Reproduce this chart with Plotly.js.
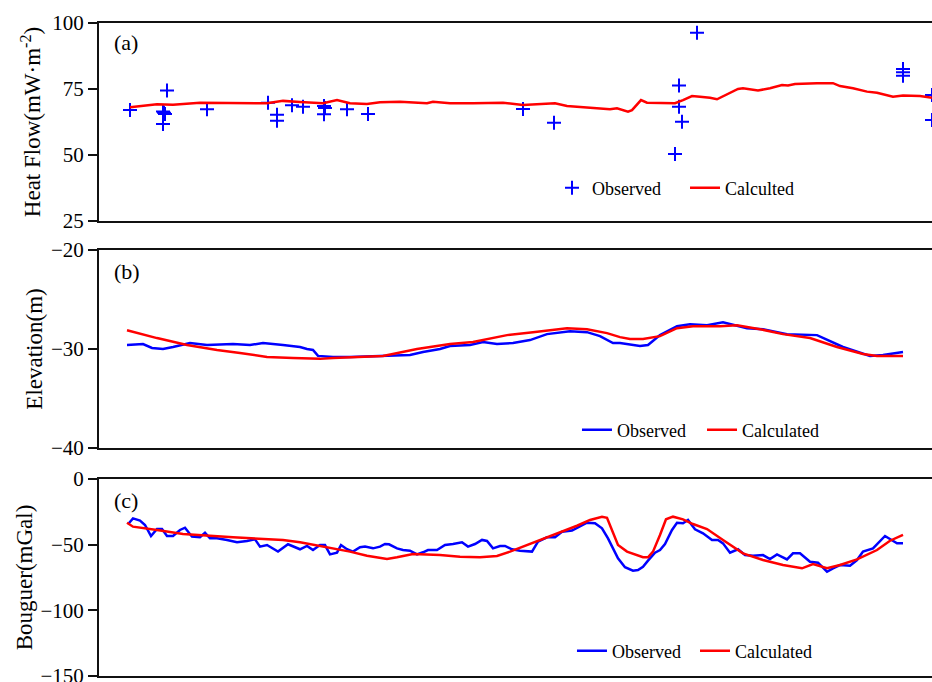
<!DOCTYPE html>
<html>
<head>
<meta charset="utf-8">
<script src="https://cdn.plot.ly/plotly-3.0.1.min.js"></script>
<style>
  html, body { margin: 0; padding: 0; background: #fff; overflow: hidden; }
  #chart { width: 932px; height: 682px; }
</style>
</head>
<body>
<div id="chart"></div>
<script>
// Profile distance along the section (km) and the three measured / modelled quantities.

// (a) Heat flow, mW·m^-2
const hfObsX = [3, 36, 37, 38, 36, 40, 80, 141, 150, 150, 165, 176, 197, 198, 197, 220, 241, 396, 427, 548, 552, 552, 555, 570, 776, 776, 776, 805, 805];
const hfObsY = [67.0, 66.5, 66.0, 65.5, 61.7, 74.4, 67.3, 69.8, 65.2, 63.0, 68.8, 68.3, 68.6, 67.8, 65.4, 67.3, 65.5, 67.4, 62.2, 50.4, 76.3, 68.3, 62.6, 96.3, 82.6, 81.3, 80.0, 72.7, 63.3];

const hfCalX = [3, 30, 46, 73, 140, 156, 173, 196, 210, 223, 240, 253, 273, 300, 306, 323, 346, 376, 396, 428, 440, 456, 473, 483, 490, 501, 505, 514, 520, 533, 548, 556, 565, 573, 583, 590, 600, 611, 616, 631, 643, 655, 661, 668, 690, 706, 713, 726, 740, 750, 766, 776, 793, 805];
const hfCalY = [68.1, 69.2, 69.0, 69.8, 69.6, 70.5, 70.1, 69.6, 70.8, 69.6, 69.3, 70.0, 70.2, 69.6, 70.2, 69.6, 69.6, 69.8, 68.9, 69.6, 68.6, 68.1, 67.7, 67.3, 67.7, 66.4, 67.0, 70.8, 69.8, 69.6, 69.6, 70.8, 72.3, 72.1, 71.7, 71.1, 73.0, 75.0, 75.3, 74.4, 75.3, 76.5, 76.3, 76.9, 77.2, 77.2, 76.1, 75.3, 74.0, 73.6, 72.1, 72.5, 72.3, 71.7];

// (b) Elevation, m
const elObsX = [0, 16, 25, 36, 46, 63, 80, 106, 123, 136, 156, 173, 180, 186, 191, 206, 223, 256, 283, 296, 313, 323, 343, 356, 370, 386, 403, 420, 443, 460, 473, 486, 493, 513, 521, 533, 550, 563, 580, 596, 605, 620, 636, 660, 690, 716, 743, 756, 776];
const elObsY = [-29.6, -29.5, -29.9, -30.0, -29.8, -29.4, -29.6, -29.5, -29.6, -29.4, -29.6, -29.8, -30.0, -30.1, -30.7, -30.8, -30.8, -30.7, -30.6, -30.3, -30.0, -29.7, -29.6, -29.3, -29.5, -29.4, -29.1, -28.5, -28.2, -28.3, -28.7, -29.4, -29.4, -29.7, -29.6, -28.6, -27.7, -27.5, -27.6, -27.3, -27.5, -27.9, -28.0, -28.5, -28.6, -29.8, -30.7, -30.6, -30.3];

const elCalX = [0, 30, 60, 90, 113, 140, 166, 193, 206, 256, 290, 323, 346, 380, 406, 440, 460, 480, 493, 503, 516, 533, 550, 566, 593, 610, 633, 656, 683, 710, 736, 750, 776];
const elCalY = [-28.1, -28.9, -29.6, -30.1, -30.4, -30.8, -30.9, -31.0, -30.9, -30.7, -30.0, -29.5, -29.3, -28.6, -28.3, -27.9, -28.0, -28.4, -28.8, -29.0, -29.0, -28.7, -27.9, -27.7, -27.7, -27.6, -28.0, -28.5, -28.9, -29.8, -30.5, -30.7, -30.7];

// (c) Bouguer gravity anomaly, mGal
const bgObsX = [1, 6, 13, 18, 24, 30, 35, 40, 46, 53, 58, 65, 73, 78, 83, 90, 100, 110, 120, 128, 133, 140, 151, 161, 173, 180, 186, 193, 198, 203, 210, 214, 220, 226, 233, 238, 246, 253, 258, 262, 270, 276, 283, 290, 296, 301, 310, 318, 326, 335, 341, 348, 355, 360, 366, 373, 378, 385, 393, 405, 411, 420, 428, 435, 445, 453, 460, 468, 475, 481, 486, 491, 498, 506, 511, 516, 521, 528, 533, 538, 545, 550, 556, 561, 568, 576, 585, 591, 596, 603, 611, 618, 626, 636, 643, 650, 660, 666, 673, 683, 691, 700, 706, 713, 723, 730, 736, 746, 758, 765, 770, 776];
const bgObsY = [-34.5, -30.0, -31.7, -35.0, -43.4, -38.1, -38.1, -43.4, -43.4, -38.8, -37.1, -43.9, -44.4, -41.0, -45.2, -45.2, -46.4, -48.2, -47.2, -45.9, -51.5, -50.3, -55.3, -49.7, -53.5, -51.0, -54.1, -50.3, -50.3, -57.4, -56.1, -50.3, -53.5, -55.3, -52.0, -51.5, -52.8, -51.5, -49.5, -49.7, -52.8, -54.1, -54.6, -57.4, -55.8, -54.1, -54.1, -50.3, -49.5, -48.2, -51.5, -49.5, -46.4, -47.2, -52.8, -51.0, -51.0, -53.5, -54.6, -55.3, -47.7, -44.4, -44.4, -40.1, -39.3, -35.8, -33.3, -33.7, -37.5, -45.2, -52.8, -60.4, -67.2, -69.8, -69.3, -66.8, -62.2, -56.1, -54.1, -49.5, -38.8, -33.3, -33.7, -31.2, -38.3, -41.4, -46.4, -46.4, -49.0, -56.1, -53.5, -57.9, -58.4, -57.9, -60.9, -57.4, -61.2, -56.6, -56.6, -63.0, -63.7, -70.6, -68.0, -65.5, -66.0, -61.7, -55.3, -52.8, -43.4, -46.4, -49.0, -49.0];

const bgCalX = [0, 6, 30, 56, 106, 156, 173, 193, 206, 223, 240, 260, 270, 286, 313, 333, 353, 370, 383, 400, 413, 433, 450, 463, 475, 480, 486, 491, 500, 516, 521, 526, 533, 539, 546, 556, 566, 580, 596, 616, 636, 656, 675, 686, 700, 713, 730, 750, 763, 776];
const bgCalY = [-33.3, -36.3, -38.8, -41.9, -44.4, -46.4, -48.2, -51.0, -52.8, -55.3, -58.4, -60.9, -59.6, -57.1, -57.9, -59.2, -59.6, -58.6, -55.3, -50.3, -46.4, -40.9, -35.6, -31.2, -28.7, -29.5, -40.1, -50.3, -55.3, -59.6, -59.6, -55.3, -42.6, -30.7, -28.7, -30.7, -34.3, -38.1, -46.4, -56.6, -61.7, -65.5, -68.0, -64.7, -68.0, -65.5, -61.2, -54.1, -47.0, -42.6];

const BLUE = '#0000ff';
const RED = '#ff0000';
const SERIF = 'Liberation Serif, Times New Roman, serif';

const traces = [
  { x: hfObsX, y: hfObsY, xaxis: 'x', yaxis: 'y', mode: 'markers', name: 'Observed', legend: 'legend',
    marker: { symbol: 'cross-thin', size: 10, color: BLUE, line: { color: BLUE, width: 2 } } },
  { x: hfCalX, y: hfCalY, xaxis: 'x', yaxis: 'y', mode: 'lines', name: 'Calculted', legend: 'legend2',
    line: { color: RED, width: 2.5 } },
  { x: elObsX, y: elObsY, xaxis: 'x2', yaxis: 'y2', mode: 'lines', name: 'Observed', legend: 'legend3',
    line: { color: BLUE, width: 2.5 } },
  { x: elCalX, y: elCalY, xaxis: 'x2', yaxis: 'y2', mode: 'lines', name: 'Calculated', legend: 'legend4',
    line: { color: RED, width: 2.5 } },
  { x: bgObsX, y: bgObsY, xaxis: 'x3', yaxis: 'y3', mode: 'lines', name: 'Observed', legend: 'legend5',
    line: { color: BLUE, width: 2.5 } },
  { x: bgCalX, y: bgCalY, xaxis: 'x3', yaxis: 'y3', mode: 'lines', name: 'Calculated', legend: 'legend6',
    line: { color: RED, width: 2.5 } }
];

const xBase = {
  range: [-28, 805], showticklabels: false, ticks: '', showgrid: false, zeroline: false,
  showline: true, mirror: true, linecolor: '#111', linewidth: 2
};
function yBase(range, dtick, title, domain, standoff) {
  return {
    range: range, dtick: dtick, domain: domain, showgrid: false, zeroline: false,
    showline: true, linecolor: '#111', linewidth: 2,
    ticks: 'outside', ticklen: 9, tickwidth: 2, tickcolor: '#111',
    ticklabeloverflow: 'allow',
    tickfont: { family: SERIF, size: 21, color: '#000' },
    title: { text: title, font: { family: SERIF, size: 23, color: '#000' }, standoff: standoff }
  };
}
function legendAt(x, y) {
  return {
    x: x, y: y, xanchor: 'left', yanchor: 'middle', orientation: 'h',
    bgcolor: 'rgba(0,0,0,0)', borderwidth: 0,
    font: { family: SERIF, size: 18, color: '#000' }
  };
}
function panelLabel(text, y) {
  return { text: text, xref: 'paper', yref: 'paper', x: 0.0156, y: y, xanchor: 'left', yanchor: 'middle',
           showarrow: false, font: { family: SERIF, size: 22, color: '#000' } };
}

const layout = {
  width: 932, height: 682,
  margin: { l: 99, r: 0, t: 23, b: 6 },
  paper_bgcolor: '#fff', plot_bgcolor: '#fff',
  font: { family: SERIF, color: '#000' },
  showlegend: true,
  xaxis: Object.assign({ anchor: 'y' }, xBase),
  xaxis2: Object.assign({ anchor: 'y2' }, xBase),
  xaxis3: Object.assign({ anchor: 'y3' }, xBase),
  yaxis: yBase([25, 100], 25, 'Heat Flow(mW·m<sup>-2</sup>)', [0.6968, 1], 5),
  yaxis2: yBase([-40, -20], 10, 'Elevation(m)', [0.3492, 0.6524], 2),
  yaxis3: yBase([-150, 0], 50, 'Bouguer(mGal)', [0, 0.3017], 1),
  legend: legendAt(0.5438, 0.7473),
  legend2: legendAt(0.7035, 0.7473),
  legend3: legendAt(0.5738, 0.3767),
  legend4: legendAt(0.7239, 0.3767),
  legend5: legendAt(0.5678, 0.0383),
  legend6: legendAt(0.7155, 0.0383),
  annotations: [
    panelLabel('(a)', 0.9694),
    panelLabel('(b)', 0.6187),
    panelLabel('(c)', 0.268)
  ]
};

Plotly.newPlot('chart', traces, layout, { displayModeBar: false, staticPlot: true });
</script>
</body>
</html>
